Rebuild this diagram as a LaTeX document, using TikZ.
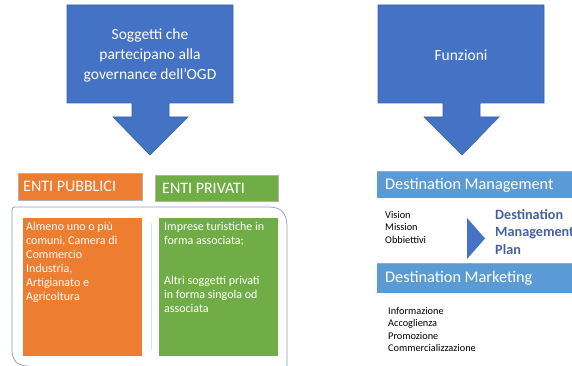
\documentclass[tikz,border=0pt]{standalone}
\usepackage{fontspec}
\setmainfont{Carlito}
\usetikzlibrary{positioning}
\definecolor{ppblue}{HTML}{4472C4}
\definecolor{ppedge}{HTML}{3A62A8}
\definecolor{pporange}{HTML}{ED7D31}
\definecolor{ppgreen}{HTML}{70AD47}
\definecolor{ppbar}{HTML}{5B9BD5}
\definecolor{ppslate}{HTML}{46619C}
\definecolor{ppframe}{HTML}{8C9DB8}

\begin{document}
\begin{tikzpicture}[x=1pt, y=-1pt,
    arrowbox/.style={fill=ppblue, draw=ppedge, line width=0.6pt},
    headtxt/.style={text=white, align=center, font=\fontsize{15.5}{20}\selectfont},
    tagbox/.style={anchor=north west, inner sep=0pt, draw=gray!60, line width=0.4pt},
    tagtxt/.style={text=white, anchor=west, inner sep=0pt, font=\fontsize{16}{19}\selectfont},
    listtxt/.style={anchor=north west, inner sep=0pt, align=left, text=white,
        font=\fontsize{12}{14}\selectfont},
    bartxt/.style={text=white, anchor=west, inner sep=0pt, font=\fontsize{16.3}{19}\selectfont},
    smalltxt/.style={anchor=north west, inner sep=0pt, align=left, font=\fontsize{10.3}{12.5}\selectfont}]
    \useasboundingbox (0,0) rectangle (572,366);

    % callout arrows
    \draw[arrowbox] (67,5) -- (233,5) -- (233,103) -- (169,103) -- (169,117) -- (188,117)
        -- (150,155) -- (113,117) -- (132,117) -- (132,103) -- (67,103) -- cycle;
    \draw[arrowbox] (378,5) -- (544,5) -- (544,103) -- (480,103) -- (480,117) -- (499,117)
        -- (462,155) -- (424,117) -- (443,117) -- (443,103) -- (378,103) -- cycle;
    \node[headtxt] (sog) at (150,55) {Soggetti che\\partecipano alla\\governance dell’OGD};
    \node[headtxt] (fun) at (461,55) {Funzioni};

    % soggetti
    \node[tagbox, fill=pporange, minimum width=124pt, minimum height=27pt] (pub) at (18,173) {};
    \node[tagbox, fill=ppgreen, minimum width=123pt, minimum height=26pt] (pri) at (155,175) {};
    \node[tagtxt] (pubt) at (23,186.5) {ENTI PUBBLICI};
    \node[tagtxt] (prit) at (162,188) {ENTI PRIVATI};

    \draw[ppframe, line width=0.7pt] (287,366) -- (287,228) .. controls (287,212) and (281,207) .. (268,207)
        -- (15,207) .. controls (13,207) and (12,208) .. (12,210) -- (12,350)
        .. controls (12,361) and (18,366) .. (28,366);

    \node[tagbox, draw=none, fill=pporange, minimum width=119pt, minimum height=138pt] (pubc) at (23,218) {};
    \node[tagbox, draw=none, fill=ppgreen, minimum width=119pt, minimum height=138pt] (pric) at (159,218) {};
    \draw[gray!25, line width=0.6pt] (151,223) -- (151,350);
    \node[listtxt] (publ) at (26,222) {Almeno uno o più\\comuni, Camera di\\Commercio\\Industria,\\Artigianato e\\Agricoltura};
    \node[listtxt] (pril) at (164,222) {Imprese turistiche in\\forma associata;\\[26pt]Altri soggetti privati\\in forma singola od\\associata};

    % funzioni
    \node[tagbox, draw=none, fill=ppbar, minimum width=195pt, minimum height=27pt] (dman) at (377,171) {};
    \node[tagbox, draw=none, fill=ppbar, minimum width=195pt, minimum height=30pt] (dmar) at (377,263) {};
    \draw[gray!70, line width=0.6pt] (dman.north west) -- (dman.north east);
    \draw[gray!70, line width=0.6pt] (dmar.north west) -- (dmar.north east);
    \node[bartxt] (dmant) at (385,185) {Destination Management};
    \node[bartxt] (dmart) at (385,278) {Destination Marketing};

    \node[smalltxt] (vis) at (385,211) {Vision\\Mission\\Obbiettivi};
    \fill[ppblue] (467,218) -- (485,238.5) -- (467,259) -- cycle;
    \node[anchor=north west, inner sep=0pt, align=left, text=ppslate,
        font=\bfseries\fontsize{14.2}{17.5}\selectfont] (dmp) at (495,209) {Destination\\Management\\Plan};
    \node[smalltxt] (inf) at (388,307) {Informazione\\Accoglienza\\Promozione\\Commercializzazione};
\end{tikzpicture}
\end{document}
